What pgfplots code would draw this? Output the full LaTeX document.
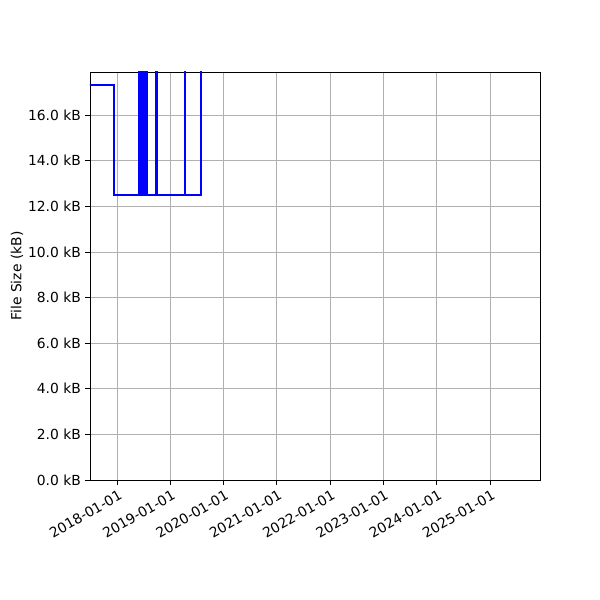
\documentclass[border=0pt]{standalone}
\usepackage{fontspec}
\setmainfont{DejaVu Sans}
\usepackage{pgfplots}
\pgfplotsset{compat=1.18}
\begin{document}
\fontsize{10.4}{12}\selectfont
\begin{tikzpicture}[x=1pt,y=1pt]
\path[use as bounding box] (0,0) rectangle (450,450);
\begin{axis}[
  at={(67.5pt,90pt)}, anchor=south west,
  width=337.5pt, height=306pt, scale only axis,
  xmin=2017.493, xmax=2025.936,
  ymin=0, ymax=17.89,
  xtick={2018,2019,2020,2021,2022,2023,2024,2025},
  xticklabels={2018-01-01,2019-01-01,2020-01-01,2021-01-01,2022-01-01,2023-01-01,2024-01-01,2025-01-01},
  ytick={0,2,...,16},
  yticklabel={\pgfmathprintnumber[fixed,fixed zerofill,precision=1]{\tick} kB},
  /pgf/number format/assume math mode=true,
  x tick label style={rotate=30, anchor=north east, inner sep=1pt, yshift=-2pt},
  y tick label style={inner sep=2pt, xshift=-1pt},
  tick align=outside, tick pos=left,
  major tick length=3.65pt,
  every tick/.style={black, line width=0.65pt},
  grid=major,
  major grid style={color=black!31, line width=0.65pt},
  axis line style={line width=0.65pt},
  ylabel={File Size (kB)},
  ylabel style={at={(axis description cs:-0.162,0.5)}, anchor=center},
  clip=true,
]
\addplot[color={rgb,255:red,0;green,0;blue,255}, line width=1.5pt, line join=miter] coordinates {
(2017.40,17.3) (2017.9493,17.3) (2017.9493,12.5)
(2018.4184,12.5) (2018.4184,30) (2018.4315,30) (2018.4315,12.5)
(2018.4447,12.5) (2018.4447,30) (2018.4578,30) (2018.4578,12.5)
(2018.4709,12.5) (2018.4709,30) (2018.4841,30) (2018.4841,12.5)
(2018.4972,12.5) (2018.4972,30) (2018.5103,30) (2018.5103,12.5)
(2018.5235,12.5) (2018.5235,30) (2018.5366,30) (2018.5366,12.5)
(2018.5497,12.5) (2018.5497,30) (2018.5591,30) (2018.5591,12.5)
(2018.7373,12.5) (2018.7373,30) (2018.7467,30) (2018.7467,12.5)
(2019.2720,12.5) (2019.2720,30) (2019.2814,30) (2019.2814,12.5)
(2019.5704,12.5) (2019.5704,30) (2019.60,30)
};
\end{axis}
\end{tikzpicture}
\end{document}
